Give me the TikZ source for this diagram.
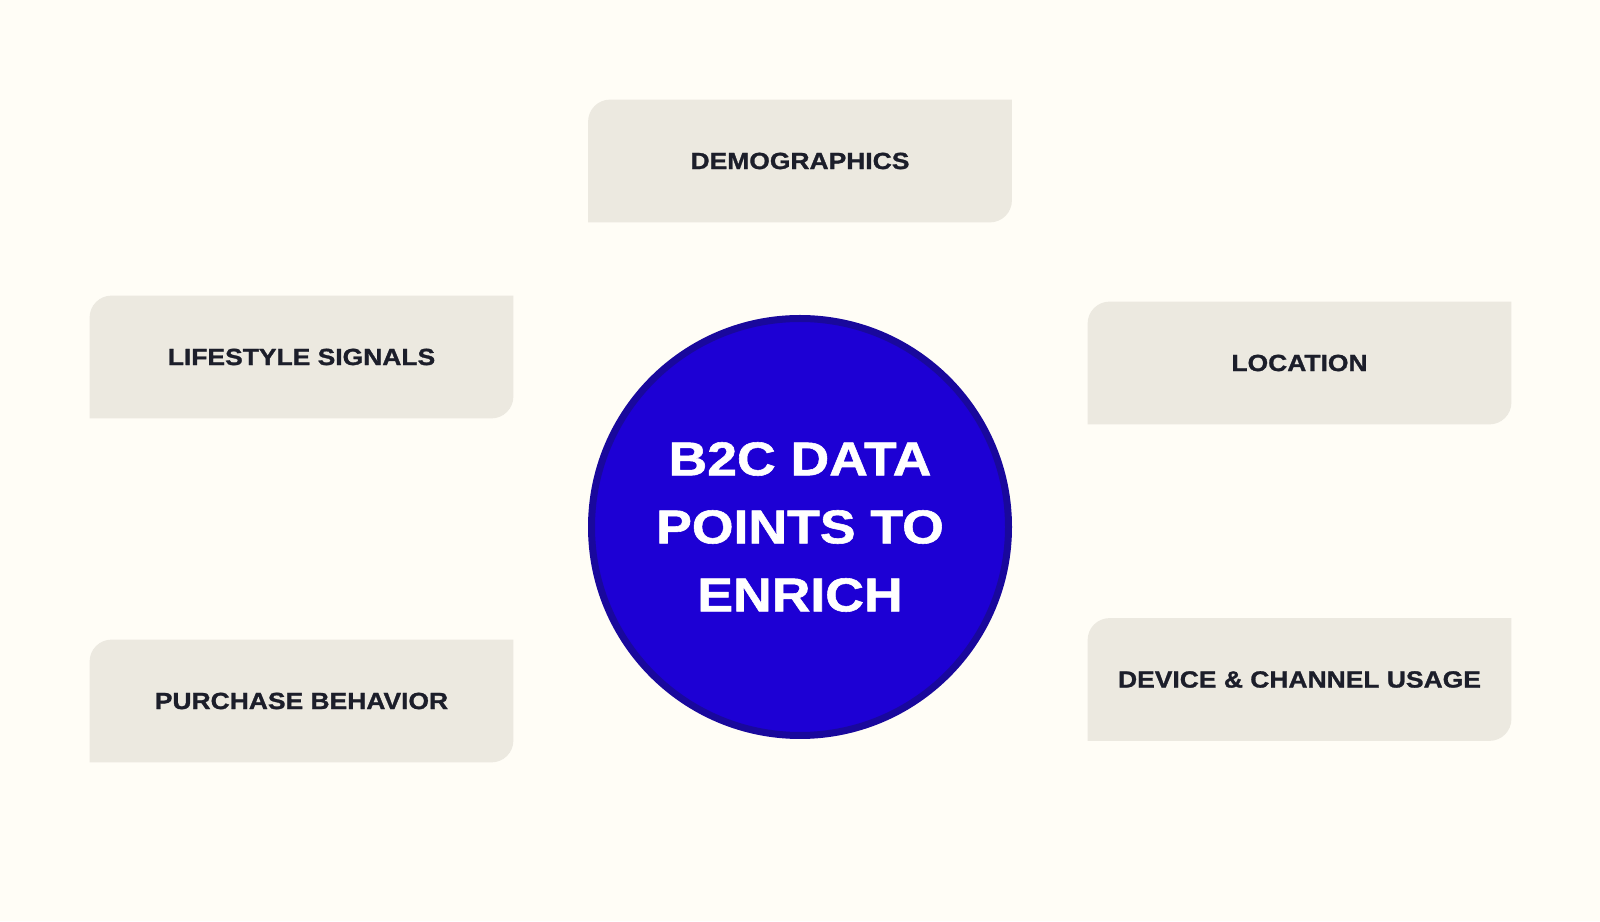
\documentclass[tikz,border=0pt]{standalone}
\usepackage{fontspec}
\setmainfont{Liberation Sans}[FakeStretch=1.13, BoldFeatures={FakeBold=1.2}]
\usetikzlibrary{backgrounds}

\definecolor{paper}{HTML}{FFFDF6}
\definecolor{boxfill}{HTML}{ECE9E0}
\definecolor{ink}{HTML}{1C1E2A}
\definecolor{hubfill}{HTML}{1D00D4}
\definecolor{hubline}{HTML}{19089C}

\begin{document}
\begin{tikzpicture}[x=0.5pt, y=0.5pt,
    tag/.style={minimum width=211.5pt, minimum height=61pt, inner sep=0pt, text=ink,
        font=\fontsize{11.7}{14}\selectfont\bfseries},
    hub/.style={circle, draw=hubline, line width=3.5pt, fill=hubfill, minimum size=208.5pt,
        inner sep=0pt, text=white, align=center, font=\fontsize{23.7}{34}\selectfont\bfseries}]

    \useasboundingbox (0,0) rectangle (1600,921);

    \node [hub] (hub) at (800,394) {B2C DATA\\POINTS TO\\ENRICH};

    \node [tag] (demographics) at (800,760) {DEMOGRAPHICS};
    \node [tag] (lifestyle) at (301.5,564) {LIFESTYLE SIGNALS};
    \node [tag] (location) at (1299.5,558) {LOCATION};
    \node [tag] (purchase) at (301.5,220) {PURCHASE BEHAVIOR};
    \node [tag] (device) at (1299.5,241.5) {DEVICE \& CHANNEL USAGE};

    % cards: round top left and bottom right only
    \begin{scope}[on background layer]
        \fill [paper] (0,0) rectangle (1600,921);
        \foreach \n in {demographics,lifestyle,location,purchase,device}
            \fill [boxfill] (\n.south west) -- ([yshift=-11pt]\n.north west)
                arc [start angle=180, end angle=90, radius=11pt] -- (\n.north east)
                -- ([yshift=11pt]\n.south east)
                arc [start angle=0, end angle=-90, radius=11pt] -- cycle;
    \end{scope}

\end{tikzpicture}
\end{document}
